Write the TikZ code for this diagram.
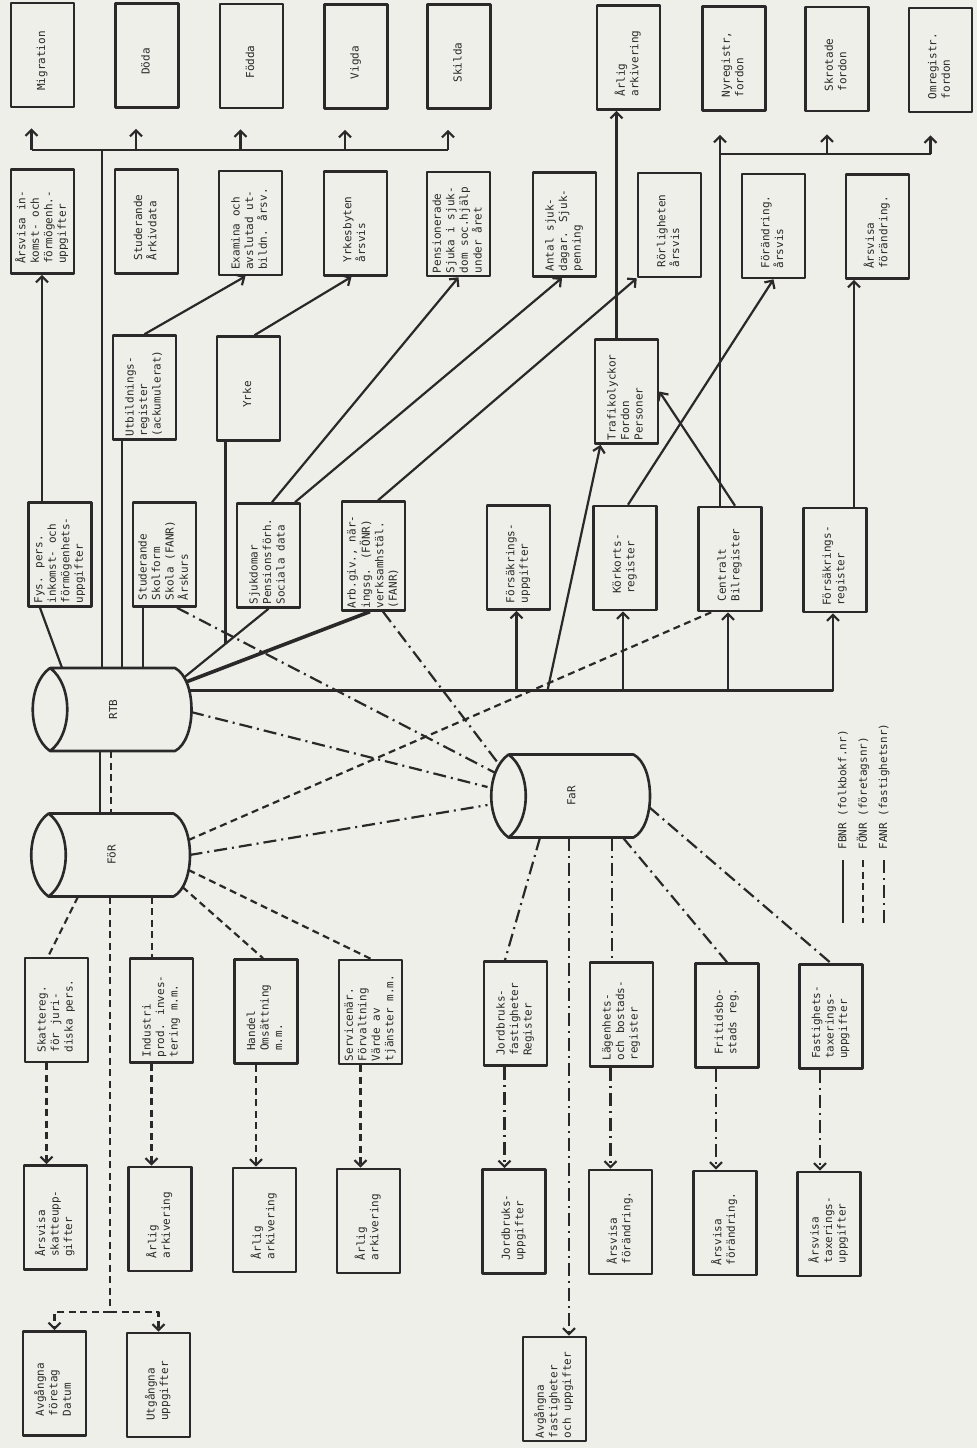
\documentclass[tikz,border=0pt]{standalone}
\usepackage{fontspec}
\usepackage{graphicx}
\usetikzlibrary{arrows.meta,calc}
\newfontfamily\plotfont{DejaVu Sans Mono}
\newcommand{\boxfont}{\plotfont\fontsize{11}{13.5}\selectfont}
\newcommand{\vt}[1]{\rotatebox{90}{\begin{tabular}{@{}l@{\hspace{12pt}}}#1\end{tabular}}}
\definecolor{paper}{RGB}{238,239,233}
\definecolor{ink}{RGB}{42,40,40}
\tikzset{
	box/.style={draw=ink, line width=2.6pt, minimum width=63pt, minimum height=104pt, inner sep=2pt, text=ink, font=\boxfont},
	drum/.style={minimum width=160pt, minimum height=83pt, inner sep=0pt, text=ink, font=\boxfont},
	fbnr/.style={draw=ink, line width=2.2pt},
	fonr/.style={fbnr, dash pattern=on 7pt off 4.5pt},
	fanr/.style={fbnr, dash pattern=on 13pt off 5pt on 2pt off 5pt}
}
\begin{document}
\begin{tikzpicture}[x=1pt, y=-1pt, >={Straight Barb[length=6pt,width=12pt]}, line join=round]
	\fill[paper] (0,0) rectangle (977,1448);
	% row 1
	\node[box] (mig) at (42.5,55) {\vt{Migration}};
	\node[box] (doda) at (147,55.5) {\vt{Döda}};
	\node[box] (fodda) at (251.5,56) {\vt{Födda}};
	\node[box] (vigda) at (356,56.5) {\vt{Vigda}};
	\node[box] (skilda) at (459,56.5) {\vt{Skilda}};
	\node[box] (arl1) at (628.5,57.5) {\vt{Årlig\\arkivering}};
	\node[box] (nyreg) at (734,58.5) {\vt{Nyregistr,\\fordon}};
	\node[box] (skrot) at (837,59) {\vt{Skrotade\\fordon}};
	\node[box] (omreg) at (940.5,60) {\vt{Omregistr.\\fordon}};
	% row 2
	\node[box] (arsink) at (42.5,221.5) {\vt{Årsvisa in-\\komst- och\\förmögenh.-\\uppgifter}};
	\node[box] (studark) at (146.5,221.5) {\vt{Studerande\\Årkivdata}};
	\node[box] (examina) at (250.5,223) {\vt{Examina och\\avslutad ut-\\bildn. årsv.}};
	\node[box] (yrkesb) at (355.5,223.5) {\vt{Yrkesbyten\\årsvis}};
	\node[box] (pension) at (458.5,224) {\vt{Pensionerade\\Sjuka i sjuk-\\dom soc.hjälp\\under året}};
	\node[box] (antal) at (564.5,224.5) {\vt{Antal sjuk-\\dagar. Sjuk-\\penning}};
	\node[box] (rorlig) at (669.5,225) {\vt{Rörligheten\\årsvis}};
	\node[box] (forandr) at (773.5,226) {\vt{Förändring.\\årsvis}};
	\node[box] (arsforandr) at (877.5,226.5) {\vt{Årsvisa\\förändring.}};
	% row 3
	\node[box] (utbreg) at (144.5,387.5) {\vt{Utbildnings-\\register\\(ackumulerat)}};
	\node[box] (yrke) at (248.5,388.5) {\vt{Yrke}};
	\node[box] (trafik) at (626.5,391.5) {\vt{Trafikolyckor\\Fordon\\Personer}};
	% row 4
	\node[box] (fys) at (60,554.5) {\vt{Fys. pers.\\inkomst- och\\förmögenhets-\\uppgifter}};
	\node[box] (stud) at (164.5,554.5) {\vt{Studerande\\Skolform\\Skola (FANR)\\Årskurs}};
	\node[box] (sjuk) at (268.5,555.5) {\vt{Sjukdomar\\Pensionsförh.\\Sociala data}};
	\node[box] (arbgiv) at (373.5,556) {\vt{Arb.giv., när-\\ingsg. (FÖNR)\\verksamhstäl.\\(FANR)}};
	\node[box] (forsupp) at (518.5,557.5) {\vt{Försäkrings-\\uppgifter}};
	\node[box] (korkort) at (625,558) {\vt{Körkorts-\\register}};
	\node[box] (bilreg) at (730,559) {\vt{Centralt\\Bilregister}};
	\node[box] (forsreg) at (835,560) {\vt{Försäkrings-\\register}};
	% registers
	\node[drum] (rtb) at (113,709.5) {\rotatebox{90}{RTB}};
	\node[drum] (foer) at (111.5,855) {\rotatebox{90}{FöR}};
	\node[drum] (far) at (571.5,796) {\rotatebox{90}{FaR}};
	\foreach \n in {rtb,foer,far}
		\draw[fbnr, line width=2.6pt, shift={(\n)}] (-63,-41.5) -- (62,-41.5) .. controls (84,-30) and (84,30) .. (62,41.5) -- (-63,41.5) .. controls (-86,25) and (-86,-25) .. (-63,-41.5) .. controls (-40,-25) and (-40,25) .. (-63,41.5);
	% row 5
	\node[box] (skatt) at (56.5,1010) {\vt{Skattereg.\\för juri-\\diska pers.}};
	\node[box] (industri) at (161.5,1010.5) {\vt{Industri\\prod. inves-\\tering m.m.}};
	\node[box] (handel) at (266,1011.5) {\vt{Handel\\Omsättning\\m.m.}};
	\node[box] (service) at (370.5,1012) {\vt{Servicenär.\\Förvaltning\\Värde av\\tjänster m.m.}};
	\node[box] (jordreg) at (515.5,1013.5) {\vt{Jordbruks-\\fastigheter\\Register}};
	\node[box] (lagenhet) at (621.5,1014.5) {\vt{Lägenhets-\\och bostads-\\register}};
	\node[box] (fritid) at (727,1015.5) {\vt{Fritidsbo-\\stads reg.}};
	\node[box] (fasttax) at (831,1016.5) {\vt{Fastighets-\\taxerings-\\uppgifter}};
	% row 6
	\node[box] (arsskatt) at (55.5,1217.5) {\vt{Årsvisa\\skatteupp-\\gifter}};
	\node[box] (arl2) at (160,1219) {\vt{Årlig\\arkivering}};
	\node[box] (arl3) at (264.5,1220) {\vt{Årlig\\arkivering}};
	\node[box] (arl4) at (368.5,1221) {\vt{Årlig\\arkivering}};
	\node[box] (jorduppg) at (514,1221.5) {\vt{Jordbruks-\\uppgifter}};
	\node[box] (arsfor1) at (620.5,1222) {\vt{Årsvisa\\förändring.}};
	\node[box] (arsfor2) at (725,1223) {\vt{Årsvisa\\förändring.}};
	\node[box] (arstax) at (829,1224) {\vt{Årsvisa\\taxerings-\\uppgifter}};
	% row 7
	\node[box] (avgftg) at (54.5,1383.5) {\vt{Avgångna\\företag\\Datum}};
	\node[box] (utgupp) at (158.5,1385) {\vt{Utgångna\\uppgifter}};
	\node[box] (avgfast) at (554.5,1389) {\vt{Avgångna\\fastigheter\\och uppgifter}};
	% legend
	\node[anchor=south, font=\boxfont, text=ink] (lg1) at (843,853) {\rotatebox{90}{FBNR (folkbokf.nr)}};
	\node[anchor=south, font=\boxfont, text=ink] (lg2) at (863,853) {\rotatebox{90}{FÖNR (företagsnr)}};
	\node[anchor=south, font=\boxfont, text=ink] (lg3) at (884,853) {\rotatebox{90}{FANR (fastighetsnr)}};
	\draw[fbnr] ([yshift=-7pt]lg1.south) -- ([yshift=-70pt]lg1.south);
	\draw[fonr] ([yshift=-7pt]lg2.south) -- ([yshift=-70pt]lg2.south);
	\draw[fanr] ([yshift=-7pt]lg3.south) -- ([yshift=-70pt]lg3.south);

	\coordinate (bus1) at (0,150);
	\coordinate (bus2) at (0,154);
	\coordinate (fj) at (110,1312);
	\coordinate (main) at ($(rtb.center)+(77,-19)$);

	% FBNR
	\draw[fbnr] ($(rtb.north |- bus1)+(-11,0)$) -- ($(rtb.north)+(-11,0)$);
	\draw[fbnr] ($(mig.south |- bus1)+(-11,0)$) -- ($(skilda.south |- bus1)+(-11,0)$);
	\foreach \n in {mig,doda,fodda,vigda,skilda}
		\draw[fbnr,->,shorten >=20pt] ($(\n.south |- bus1)+(-11,0)$) -- ($(\n.south)+(-11,0)$);
	\draw[fbnr] ($(rtb.north)+(-51,0)$) -- ($(fys.south)+(-20,0)$);
	\draw[fbnr,->] ($(fys.north)+(-18,0)$) -- ($(arsink.south)+(-0.5,0)$);
	\draw[fbnr] ($(rtb.north)+(9,0)$) -- ($(utbreg.south)+(-22.5,0)$);
	\draw[fbnr,->] (utbreg.north) -- ($(examina.south)+(-5,0)$);
	\draw[fbnr] ($(stud.south)+(-21.5,0)$) -- ($(stud.south |- rtb.north)+(-21.5,0)$);
	\draw[fbnr] ($(rtb.center)+(71,-32)$) -- (sjuk.south) coordinate[pos=0.49] (yj);
	\draw[fbnr] (yj) -- (yj |- yrke.south);
	\draw[fbnr,->] ($(yrke.north)+(6,0)$) -- ($(yrkesb.south)+(-4,0)$);
	\draw[fbnr, line width=3.6pt] ($(rtb.center)+(73,-27.5)$) -- ($(arbgiv.south)+(-3.5,0)$);
	\draw[fbnr,->] ($(sjuk.north)+(3.5,0)$) -- (pension.south);
	\draw[fbnr,->] ($(sjuk.north)+(26.5,0)$) -- ($(antal.south)+(-2.5,0)$);
	\draw[fbnr,->] ($(arbgiv.north)+(4.5,0)$) -- (rorlig.south west);
	\draw[fbnr,->] (main) -| ($(forsreg.south)+(-2,0)$);
	\foreach \n in {forsupp,korkort,bilreg}
		\draw[fbnr,->] ($(\n.south |- main)+(-2,0)$) -- ($(\n.south)+(-2,0)$);
	\draw[fbnr,->] ($(forsupp.south |- main)+(29,0)$) -- ($(trafik.south)+(-26,0)$);
	\draw[fbnr,->] ($(trafik.north)+(-10,0)$) -- ($(arl1.south)+(-12,0)$);
	\draw[fbnr,->] ($(korkort.north)+(3,0)$) -- (forandr.south);
	\draw[fbnr,->] ($(bilreg.north)+(5,0)$) -- (trafik.east);
	\draw[fbnr,->] ($(forsreg.north)+(19,0)$) -- ($(arsforandr.south)+(-23.5,0)$);
	\draw[fbnr,->,shorten >=23pt] ($(bilreg.north)+(-10,0)$) -- ($(bilreg.north |- nyreg.south)+(-10,0)$);
	\draw[fbnr] ($(bilreg.north |- bus2)+(-10,0)$) -- ($(omreg.south |- bus2)+(-10,0)$);
	\foreach \n in {skrot,omreg}
		\draw[fbnr,->,shorten >=22pt] ($(\n.south |- bus2)+(-10,0)$) -- ($(\n.south)+(-10,0)$);
	\draw[fbnr] ($(rtb.south)+(-13,0)$) -- ($(foer.north)+(-11.5,0)$);

	% FONR
	\draw[fonr] ($(rtb.south)+(-2,0)$) -- ($(foer.north)+(-0.5,0)$);
	\draw[fonr] ($(foer.south)+(-33.5,0)$) -- ($(skatt.north)+(-8.5,0)$);
	\draw[fonr] ($(foer.south)+(-1.5,0)$) -- (fj);
	\draw[fonr,->] (fj) -| (avgftg.north);
	\draw[fonr,->] (fj) -| (utgupp.north);
	\draw[fonr] ($(foer.south)+(40.5,0)$) -- ($(industri.north)+(-9.5,0)$);
	\draw[fonr] ($(foer.center)+(71,32)$) -- ($(handel.north)+(-3,0)$);
	\draw[fonr] ($(foer.center)+(77,15)$) -- (service.north);
	\draw[fonr] ($(foer.center)+(77,-15)$) -- ($(bilreg.south west)+(14,0)$);
	\foreach \a/\b in {skatt/arsskatt,industri/arl2,handel/arl3,service/arl4}
		\draw[fonr,->] ($(\a.south)+(-10,0)$) -- ($(\a.south |- \b.north)+(-10,0)$);

	% FANR
	\draw[fanr] ($(stud.south)+(12.5,0)$) -- ($(far.center)+(-76,-23)$);
	\draw[fanr] ($(arbgiv.south)+(9.5,0)$) -- ($(far.center)+(-72,-31)$);
	\draw[fanr] ($(rtb.center)+(78,2.5)$) -- ($(far.center)+(-84,-9)$);
	\draw[fanr] ($(foer.center)+(78,0)$) -- ($(far.center)+(-84,9)$);
	\draw[fanr] ($(far.south)+(-31.5,0)$) -- ($(jordreg.north)+(-10.5,0)$);
	\draw[fanr,->] ($(far.south)+(-2.5,0)$) -- ($(far.south |- avgfast.north)+(-2.5,0)$);
	\draw[fanr] ($(far.south)+(40.5,0)$) -- ($(lagenhet.north)+(-9.5,0)$);
	\draw[fanr] ($(far.south)+(51.5,0)$) -- (fritid.north);
	\draw[fanr] ($(far.center)+(77.5,11)$) -- (fasttax.north);
	\foreach \a/\b in {jordreg/jorduppg,lagenhet/arsfor1,fritid/arsfor2,fasttax/arstax}
		\draw[fanr,->] ($(\a.south)+(-11,0)$) -- ($(\a.south |- \b.north)+(-11,0)$);
\end{tikzpicture}
\end{document}
